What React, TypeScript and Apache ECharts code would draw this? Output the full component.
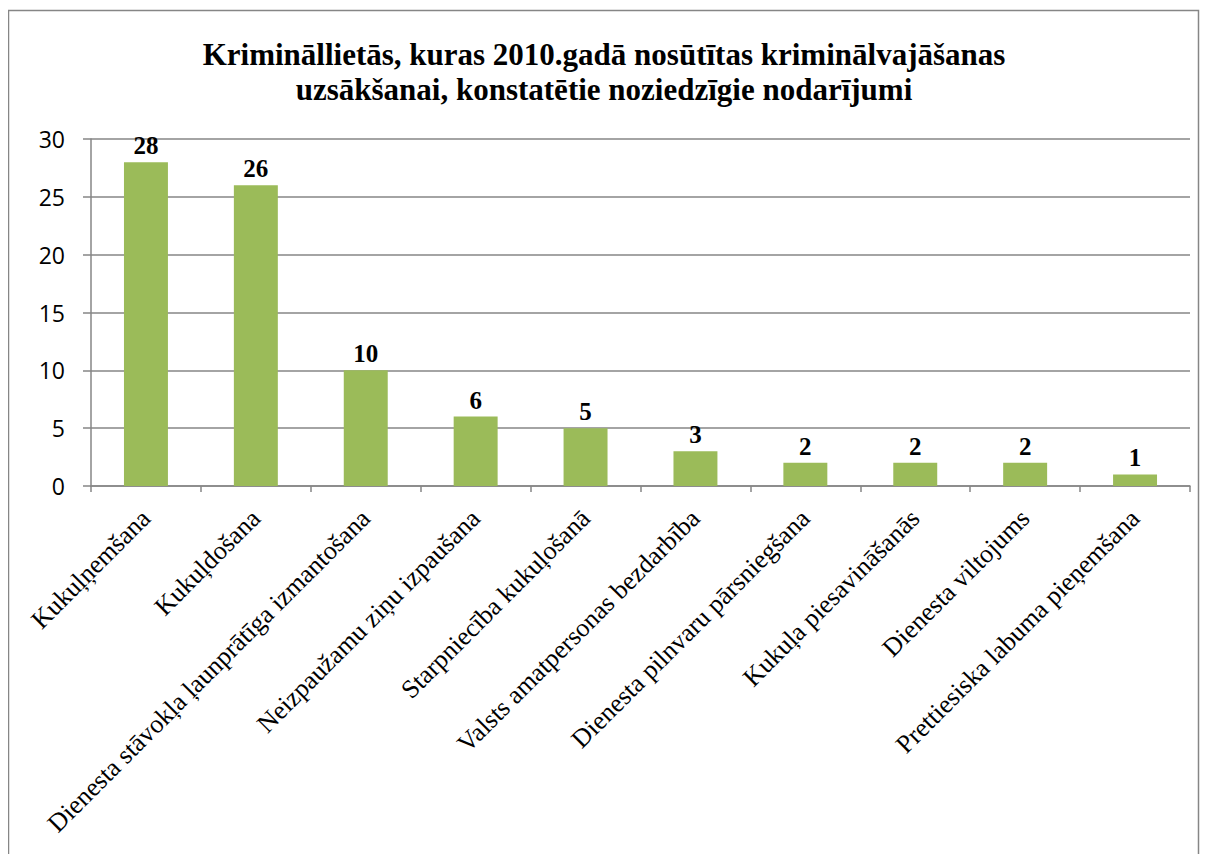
import React, { useEffect, useRef } from "react";
import * as echarts from "echarts";

const titleLines = [
  "Krimināllietās, kuras 2010.gadā nosūtītas kriminālvajāšanas",
  "uzsākšanai, konstatētie noziedzīgie nodarījumi",
];
const categories = [
  "Kukuļņemšana",
  "Kukuļdošana",
  "Dienesta stāvokļa ļaunprātīga izmantošana",
  "Neizpaužamu ziņu izpaušana",
  "Starpniecība kukuļošanā",
  "Valsts amatpersonas bezdarbība",
  "Dienesta pilnvaru pārsniegšana",
  "Kukuļa piesavināšanās",
  "Dienesta viltojums",
  "Prettiesiska labuma pieņemšana",
];
const values = [28, 26, 10, 6, 5, 3, 2, 2, 2, 1];

export default function App() {
  const ref = useRef<HTMLDivElement>(null);
  useEffect(() => {
    if (!ref.current) return;
    const chart = echarts.init(ref.current, null, { renderer: "svg" });
    const serif = "'Liberation Serif', 'Times New Roman', serif";
    chart.setOption({
      animation: false,
      title: {
        text: titleLines.join("\n"),
        left: "center",
        top: 24,
        textStyle: {
          fontFamily: serif,
          fontWeight: "bold",
          fontSize: 31,
          lineHeight: 35,
          color: "#000",
        },
      },
      graphic: [
        {
          type: "rect",
          shape: { x: 0.5, y: 2.5, width: 1190, height: 1000 },
          style: { fill: "none", stroke: "#868686", lineWidth: 1.5 },
          silent: true,
        },
      ],
      grid: { left: 83, right: 10, top: 131, bottom: 368, containLabel: false },
      xAxis: {
        type: "category",
        data: categories,
        axisLine: { show: true, lineStyle: { color: "#868686", width: 1.5 } },
        axisTick: { show: true, length: 6, alignWithLabel: false, lineStyle: { color: "#868686", width: 1.5 } },
        axisLabel: {
          interval: 0,
          rotate: 45,
          margin: 28,
          fontFamily: serif,
          fontSize: 26,
          color: "#000",
        },
      },
      yAxis: {
        type: "value",
        min: 0,
        max: 30,
        interval: 5,
        axisLine: { show: true, lineStyle: { color: "#868686", width: 1.5 } },
        axisTick: { show: true, length: 8, lineStyle: { color: "#868686", width: 1.5 } },
        splitLine: { show: true, lineStyle: { color: "#868686", width: 1.5 } },
        axisLabel: {
          margin: 26,
          fontFamily: "'Open Sans', 'Liberation Sans', sans-serif",
          fontSize: 23,
          color: "#000",
        },
      },
      series: [
        {
          type: "bar",
          data: values,
          barWidth: "40%",
          itemStyle: { color: "#9BBB59" },
          label: {
            show: true,
            position: "top",
            distance: 4,
            fontFamily: serif,
            fontWeight: "bold",
            fontSize: 25,
            color: "#000",
          },
        },
      ],
    });
    return () => chart.dispose();
  }, []);
  return <div ref={ref} style={{ width: 1192, height: 846 }} />;
}
